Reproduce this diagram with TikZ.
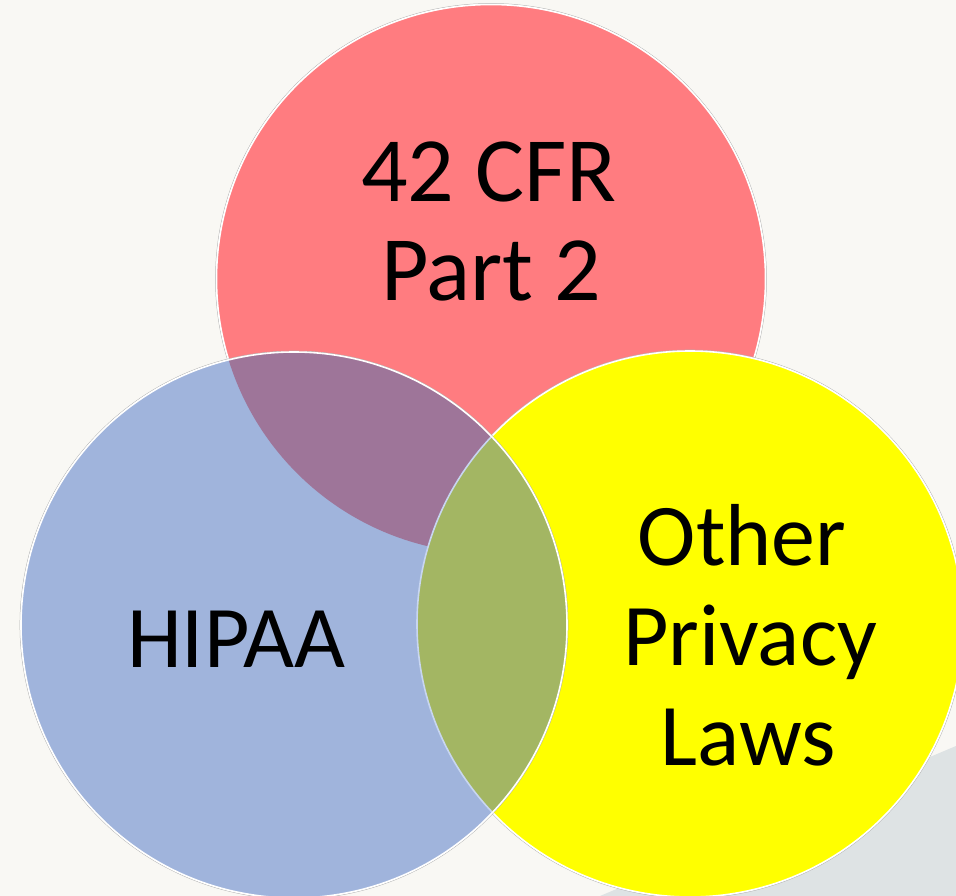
\documentclass[tikz,border=0pt]{standalone}
\usepackage{fontspec}
\setmainfont{Carlito}
\definecolor{bgc}{RGB}{249,248,244}
\definecolor{greyc}{RGB}{222,227,228}
\definecolor{redc}{RGB}{255,124,128}
\definecolor{yelc}{RGB}{255,255,0}
\definecolor{bluec}{RGB}{160,180,220}
\definecolor{purc}{RGB}{158,117,153}
\definecolor{olic}{RGB}{163,182,99}
\definecolor{lineblue}{RGB}{200,214,240}
\tikzset{
  rim/.style={draw=white, line width=1.6pt},
  shade/.style={draw=black!30, line width=0.6pt},
  lbl/.style={anchor=base, inner sep=0pt, font=\fontsize{88}{98}\selectfont, text=black},
  lblbig/.style={lbl, font=\fontsize{92}{98}\selectfont}
}
\begin{document}
\begin{tikzpicture}[x=1pt,y=-1pt]
\useasboundingbox (0,0) rectangle (956,896);
\fill[bgc] (0,0) rectangle (956,896);
% grey background shape
\fill[greyc] (600,896) -- (956,746) -- (956,896) -- cycle;
% red circle
\draw[shade] (491,279) circle (275.5);
\fill[redc] (491,279) circle (274.5);
\draw[rim] (491,279) circle (274.5);
% yellow circle
\draw[shade] (690,624) circle (274);
\fill[yelc] (690,624) circle (273);
\draw[rim] (690,624) circle (273);
% blue circle
\draw[shade] (294,625) circle (274);
\fill[bluec] (294,625) circle (273);
\begin{scope}
  \clip (294,625) circle (273);
  \fill[purc] (491,279) circle (274.5);
  \fill[olic] (690,624) circle (273);
  \draw[lineblue, line width=1.6pt] (690,624) circle (273);
\end{scope}
\draw[rim] (294,625) circle (273);
% labels
\node[lblbig] (cfra) at (489,202) {42 CFR};
\node[lblbig] (cfrb) at (491,300) {Part 2};
\node[lbl] (hipaa) at (236,667) {HIPAA};
\node[lbl] (oth) at (742,565) {Other};
\node[lbl] (priv) at (750,665) {Privacy};
\node[lbl] (laws) at (748,765) {Laws};
\end{tikzpicture}
\end{document}
